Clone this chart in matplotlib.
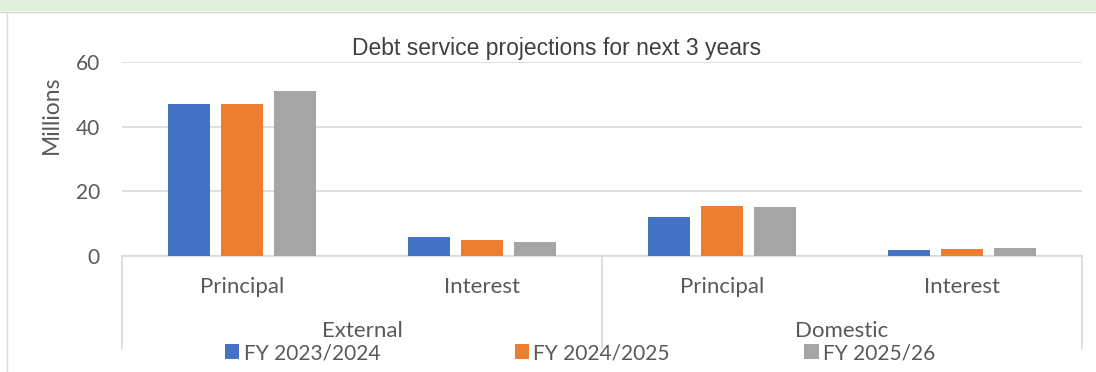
import matplotlib.pyplot as plt
import matplotlib.transforms as mtransforms
from matplotlib.patches import Rectangle
from matplotlib.lines import Line2D
import numpy as np

# data (millions)
groups = ['External', 'Domestic']
items = ['Principal', 'Interest', 'Principal', 'Interest']
series = ['FY 2023/2024', 'FY 2024/2025', 'FY 2025/26']
fy2324 = [47.0, 5.9, 12.1, 1.9]
fy2425 = [47.0, 4.9, 15.5, 2.2]
fy2526 = [51.0, 4.3, 15.2, 2.5]
colors = ['#4472C4', '#ED7D31', '#A5A5A5']

plt.rcParams['font.family'] = ['Lato', 'DejaVu Sans']
txt_col = '#595959'
grid_col = '#D9D9D9'

fig = plt.figure(figsize=(10.96, 3.72), dpi=100, facecolor='white')

# green strip on top and frame line on the left
fig.patches.append(Rectangle((0, 1 - 11 / 372), 1, 11 / 372, transform=fig.transFigure,
                             facecolor='#E2EFDA', edgecolor='none', zorder=0))
fig.lines.append(Line2D([0, 1], [1 - 12 / 372] * 2, transform=fig.transFigure, color='#D0D8CC', lw=1))
fig.lines.append(Line2D([7 / 1096] * 2, [0, 1 - 12 / 372], transform=fig.transFigure, color='#D9D9D9', lw=1))

ax = fig.add_axes([122 / 1096, 1 - 256 / 372, 960 / 1096, 194 / 372])

x = np.arange(len(items))
w = 0.175
step = 0.222
for i, (vals, name) in enumerate(zip([fy2324, fy2425, fy2526], series)):
    ax.bar(x + (i - 1) * step, vals, width=w, color=colors[i], label=name, zorder=3)

ax.set_xlim(-0.5, len(items) - 0.5)
ax.set_ylim(0, 60)
ax.set_yticks([0, 20, 40, 60])
ax.yaxis.grid(True, color=grid_col, lw=1.2)
ax.set_axisbelow(True)
for s in ['top', 'right', 'left']:
    ax.spines[s].set_visible(False)
ax.spines['bottom'].set_color(grid_col)
ax.spines['bottom'].set_linewidth(1.2)
ax.tick_params(axis='y', length=0, pad=16, labelsize=15, labelcolor=txt_col)
ax.set_xticks([])
ax.set_ylabel('Millions', fontsize=16.5, color=txt_col)
ax.yaxis.set_label_coords(-0.0625, 0.727)

# multi-level category axis
trans = mtransforms.blended_transform_factory(ax.transData, ax.transAxes)
for xi, lab in zip(x, items):
    ax.text(xi, -0.16, lab, transform=trans, ha='center', va='center', fontsize=16, color=txt_col)
for gi, g in enumerate(groups):
    ax.text(gi * 2 + 0.5, -0.385, g, transform=trans, ha='center', va='center', fontsize=16, color=txt_col)
for xb in [-0.5, 1.5, 3.5]:
    ax.plot([xb, xb], [0, -0.475], transform=trans, color=grid_col, lw=1.2, clip_on=False)

fig.text(557 / 1096, 1 - 49 / 372, 'Debt service projections for next 3 years', fontsize=16.5,
         color='#404040', family='Liberation Sans', ha='center', va='center')

handles, labels = ax.get_legend_handles_labels()
fig.legend(handles, labels, loc='center', bbox_to_anchor=(580 / 1096, 1 - 353 / 372), ncol=3,
           frameon=False, fontsize=15, labelcolor=txt_col, handlelength=0.7, handleheight=0.7,
           handletextpad=0.2, columnspacing=6.45, borderpad=0)

fig.savefig('out.png', dpi=100)
